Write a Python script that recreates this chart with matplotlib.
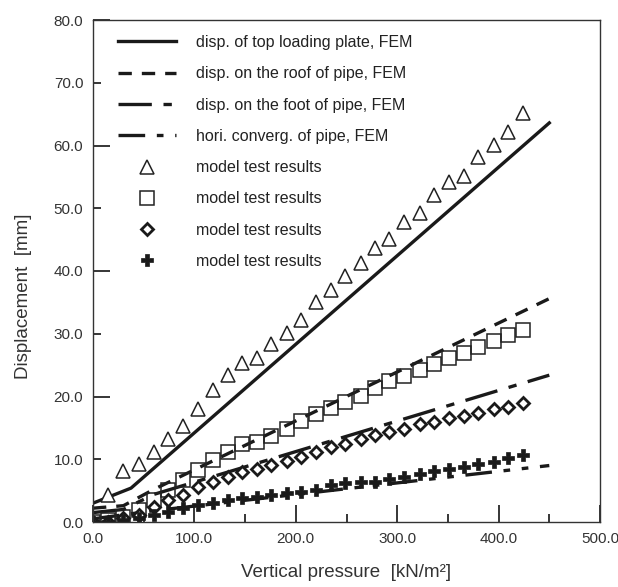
import matplotlib

matplotlib.use("Agg")
import matplotlib.pyplot as plt
from matplotlib.ticker import FixedLocator, FormatStrFormatter

plt.rcParams["font.family"] = ["Liberation Sans", "DejaVu Sans"]

# vertical pressure of the model test readings [kN/m2]
pressure = [0, 15, 30, 45, 60, 74, 89, 104, 118, 133, 147, 162, 176, 191, 205,
            220, 235, 249, 264, 278, 292, 307, 322, 336, 351, 366, 380, 395, 409, 424]

# model test results [mm]
test_top = [4.3, 8.2, 9.2, 11.1, 13.3, 15.3, 18.0, 21.0, 23.4, 25.3, 26.2, 28.3, 30.1, 32.2,
            35.1, 37.0, 39.2, 41.3, 43.7, 45.1, 47.8, 49.2, 52.1, 54.2, 55.2, 58.2, 60.1, 62.2, 65.1]
test_roof = [0.0, 0.3, 0.85, 1.9, 3.5, 5.1, 6.7, 8.3, 9.9, 11.2, 12.4, 12.7, 13.7, 14.9, 16.1,
             17.2, 18.1, 19.2, 20.1, 21.3, 22.4, 23.2, 24.2, 25.1, 26.1, 27.0, 27.9, 28.9, 29.8, 30.6]
test_foot = [0.0, 0.05, 0.6, 1.1, 2.4, 3.5, 4.3, 5.6, 6.4, 7.2, 8.0, 8.4, 9.1, 9.7, 10.4,
             11.2, 12.0, 12.4, 13.2, 13.9, 14.4, 14.9, 15.6, 16.0, 16.5, 16.9, 17.4, 18.0, 18.4, 18.9]
test_hori = [0.0, 0.0, 0.3, 0.6, 1.1, 1.6, 2.2, 2.7, 3.1, 3.5, 3.8, 4.0, 4.3, 4.6, 4.8,
             5.1, 5.9, 6.2, 6.3, 6.4, 6.8, 7.2, 7.7, 8.1, 8.5, 8.8, 9.2, 9.6, 10.2, 10.7]

# FEM curves
fem_top_x = [0, 37.5, 450]
fem_top_y = [3.0, 5.4, 63.6]
fem_roof_x = [0, 30, 60, 450]
fem_roof_y = [2.2, 2.6, 5.2, 35.6]
fem_foot_x = [0, 30, 60, 450]
fem_foot_y = [1.5, 2.0, 4.4, 23.4]
fem_hori_x = [0, 60, 450]
fem_hori_y = [0.5, 1.8, 9.0]

fig = plt.figure(figsize=(6.18, 5.87), dpi=100)
ax = fig.add_axes([93 / 618, 65 / 587, 507 / 618, 502 / 587])

lw = 2.4
ax.plot(fem_top_x, fem_top_y, color="#1a1a1a", lw=lw, linestyle="-",
        label="disp. of top loading plate, FEM")
ax.plot(fem_roof_x, fem_roof_y, color="#1a1a1a", lw=lw, linestyle=(0, (4, 3)),
        label="disp. on the roof of pipe, FEM")
ax.plot(fem_foot_x, fem_foot_y, color="#1a1a1a", lw=lw, linestyle=(0, (10, 3.5, 2.5, 3.5)),
        label="disp. on the foot of pipe, FEM")
ax.plot(fem_hori_x, fem_hori_y, color="#1a1a1a", lw=lw, linestyle=(0, (8, 3.5, 2, 3.5, 2, 3.5)),
        label="hori. converg. of pipe, FEM")

ax.plot(pressure[1:], test_top, linestyle="none", marker="^", ms=9.5, mfc="white",
        mec="#222222", mew=1.1, label="model test results")
ax.plot(pressure, test_roof, linestyle="none", marker="s", ms=10, mfc="none",
        mec="#222222", mew=1.1, label="model test results")
ax.plot(pressure, test_foot, linestyle="none", marker="D", ms=6.5, mfc="white",
        mec="#1a1a1a", mew=2.0, label="model test results")
ax.plot(pressure, test_hori, linestyle="none", marker="P", ms=9, mfc="#1a1a1a",
        mec="#1a1a1a", mew=0.5, label="model test results")

ax.set_xlim(0, 500)
ax.set_ylim(0, 80)

ax.xaxis.set_major_locator(FixedLocator([0, 100, 200, 300, 400, 500]))
ax.xaxis.set_minor_locator(FixedLocator([50, 150, 250, 350, 450]))
ax.xaxis.set_major_formatter(FormatStrFormatter("%.1f"))
ax.yaxis.set_major_locator(FixedLocator([0, 20, 40, 60, 80]))
ax.yaxis.set_minor_locator(FixedLocator([10, 30, 50, 70]))
ax.yaxis.set_major_formatter(FormatStrFormatter("%.1f"))
ax.yaxis.set_minor_formatter(FormatStrFormatter("%.1f"))

ax.tick_params(which="major", direction="in", length=12, width=1.1, labelsize=11,
               labelcolor="#333333", pad=7)
ax.tick_params(which="minor", direction="in", length=6, width=1.1, labelsize=11,
               labelcolor="#333333", pad=7)
ax.tick_params(top=False, right=False, which="both")
for spine in ax.spines.values():
    spine.set_linewidth(1.0)
    spine.set_color("#333333")

ax.set_xlabel("Vertical pressure  [kN/m\u00b2]", fontsize=13.5, color="#333333", labelpad=13)
ax.set_ylabel("Displacement  [mm]", fontsize=13.5, color="#333333")
ax.yaxis.set_label_coords(-0.12, 0.45)

leg = ax.legend(loc="upper left", bbox_to_anchor=(118 / 618, 1 - 35 / 587),
                bbox_transform=fig.transFigure, frameon=False, fontsize=11.5,
                handlelength=3.6, handletextpad=1.3, labelspacing=1.02,
                numpoints=1, borderpad=0, borderaxespad=0)
for text in leg.get_texts():
    text.set_color("#222222")

fig.savefig("out.png", dpi=100)
